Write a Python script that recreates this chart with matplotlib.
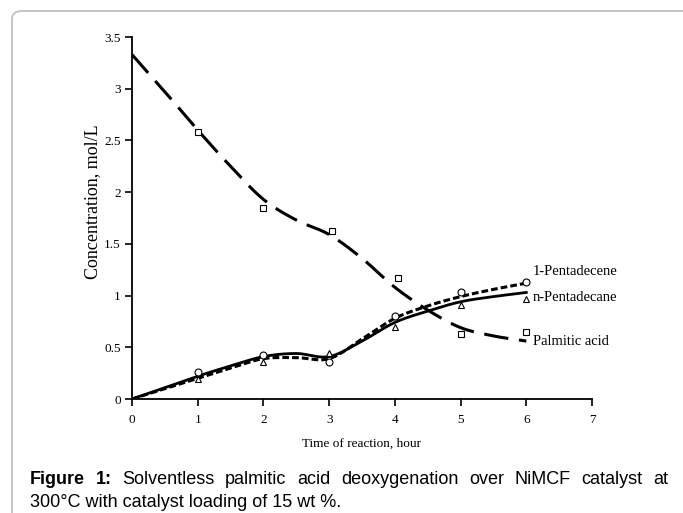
import numpy as np
import matplotlib.pyplot as plt
from matplotlib.patches import FancyBboxPatch

# model curves, read every half hour
t_model = [0, 0.5, 1, 1.5, 2, 2.5, 3, 3.5, 4, 4.5, 5, 5.5, 6]
palmitic_model = [3.33, 2.97, 2.60, 2.25, 1.93, 1.73, 1.59, 1.36, 1.08, 0.86, 0.69, 0.61, 0.56]
pentadecene_model = [0, 0.10, 0.20, 0.30, 0.39, 0.40, 0.39, 0.58, 0.78, 0.90, 0.99, 1.06, 1.12]
pentadecane_model = [0, 0.11, 0.22, 0.32, 0.41, 0.44, 0.41, 0.56, 0.74, 0.85, 0.94, 0.99, 1.03]

# experimental points
t_exp = [1, 2, 3, 4, 5, 6]
t_exp_palmitic = [1, 2, 3.05, 4.05, 5, 6]
palmitic_exp = [2.58, 1.85, 1.62, 1.17, 0.63, 0.65]
pentadecene_exp = [0.26, 0.43, 0.36, 0.80, 1.03, 1.13]
pentadecane_exp = [0.19, 0.36, 0.44, 0.70, 0.91, 0.97]

series_labels = ['1-Pentadecene', 'n-Pentadecane', 'Palmitic acid']
label_y = [1.23, 0.98, 0.56]


def smooth(x, y, n=20):
    # catmull-rom through the read points, like Excel's smoothed line
    x = np.asarray(x, float)
    y = np.asarray(y, float)
    px = np.concatenate([[2 * x[0] - x[1]], x, [2 * x[-1] - x[-2]]])
    py = np.concatenate([[2 * y[0] - y[1]], y, [2 * y[-1] - y[-2]]])
    xs, ys = [], []
    for i in range(1, len(px) - 2):
        s = np.linspace(0, 1, n, endpoint=False)
        for p, out in ((px, xs), (py, ys)):
            p0, p1, p2, p3 = p[i - 1], p[i], p[i + 1], p[i + 2]
            out.extend(0.5 * (2 * p1 + (-p0 + p2) * s
                              + (2 * p0 - 5 * p1 + 4 * p2 - p3) * s ** 2
                              + (-p0 + 3 * p1 - 3 * p2 + p3) * s ** 3))
    xs.append(x[-1])
    ys.append(y[-1])
    return np.array(xs), np.array(ys)


serif = 'Liberation Serif'
fig = plt.figure(figsize=(6.83, 5.13), dpi=100)

# grey frame of the figure box
frame = FancyBboxPatch((12 / 683, -0.3), 2.0, 1.3 - 11 / 513,
                       boxstyle='round,pad=0,rounding_size=0.015',
                       transform=fig.transFigure, fill=False,
                       edgecolor='#c4c4c4', linewidth=1.4)
fig.patches.append(frame)

ax = fig.add_axes([132 / 683, 114 / 513, 460 / 683, 362 / 513])

xs, ys = smooth(t_model, palmitic_model)
ax.plot(xs, ys, color='black', lw=2.2, dashes=(8, 3.5), solid_capstyle='butt')
xs, ys = smooth(t_model, pentadecene_model)
ax.plot(xs, ys, color='black', lw=2.2, dashes=(2.2, 1))
xs, ys = smooth(t_model, pentadecane_model)
ax.plot(xs, ys, color='black', lw=2)

ax.plot(t_exp_palmitic, palmitic_exp, 's', ms=5, mfc='white', mec='black', mew=0.8)
ax.plot(t_exp, pentadecene_exp, 'o', ms=5, mfc='white', mec='black', mew=0.8)
ax.plot(t_exp, pentadecane_exp, '^', ms=5, mfc='white', mec='black', mew=0.8)

for lab, y in zip(series_labels, label_y):
    ax.text(6.1, y, lab, fontsize=10.5, family=serif, va='center', ha='left')

ax.set_xlim(0, 7)
ax.set_ylim(0, 3.5)
ax.set_xticks(range(0, 8))
ax.set_yticks(np.arange(0, 3.51, 0.5))
ax.set_yticklabels(['0', '0.5', '1', '1.5', '2', '2.5', '3', '3.5'])
for s in ['top', 'right']:
    ax.spines[s].set_visible(False)
for s in ['left', 'bottom']:
    ax.spines[s].set_linewidth(1.3)
ax.tick_params(direction='out', length=5, width=1.2, labelsize=9.5)
ax.tick_params(axis='y', pad=3)
ax.tick_params(axis='x', pad=6)
for lab in ax.get_xticklabels() + ax.get_yticklabels():
    lab.set_family(serif)
ax.set_xlabel('Time of reaction, hour', fontsize=9.5, family=serif, labelpad=8)
ax.set_ylabel('Concentration, mol/L', fontsize=13, family=serif)
ax.yaxis.set_label_coords(-0.068, 0.545)

# caption, first line justified
fig.canvas.draw()
r = fig.canvas.get_renderer()
cap_font = dict(family='Liberation Sans', fontsize=13)
words = [('Figure', 'bold'), ('1:', 'bold')] + [(w, 'normal') for w in
         'Solventless palmitic acid deoxygenation over NiMCF catalyst at'.split()]
x0, x1 = 30, 668
y1 = 1 - 484 / 513
texts = [fig.text(0, y1, w, fontweight=fw, va='baseline', **cap_font) for w, fw in words]
widths = [t.get_window_extent(r).width for t in texts]
gap = (x1 - x0 - sum(widths)) / (len(words) - 1)
x = x0
for t, w in zip(texts, widths):
    t.set_x(x / 683)
    x += w + gap
fig.text(x0 / 683, 1 - 507 / 513, '300°C with catalyst loading of 15 wt %.',
         va='baseline', **cap_font)

fig.savefig('out.png', dpi=100)
